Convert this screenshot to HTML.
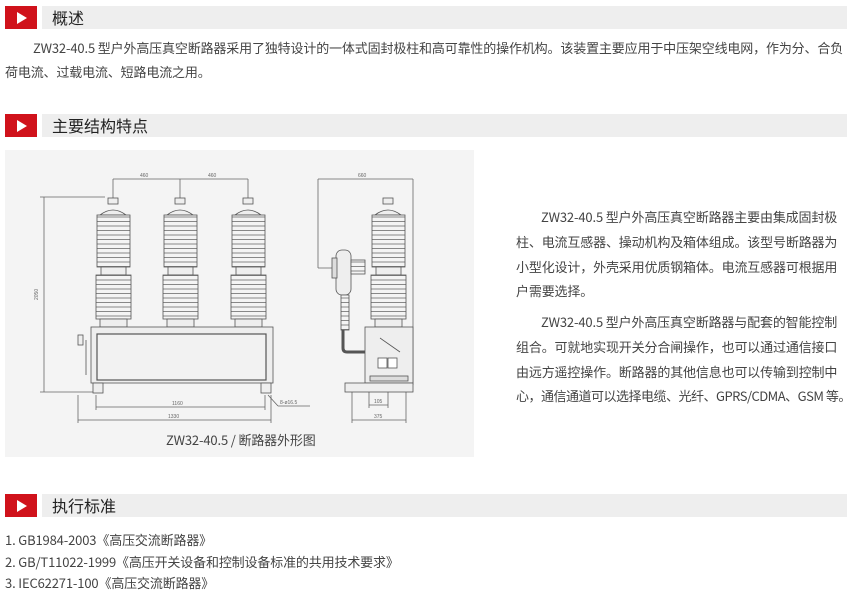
<!DOCTYPE html>
<html><head><meta charset="utf-8"><style>
*{margin:0;padding:0;box-sizing:border-box}
body{width:847px;height:592px;background:#fff;position:relative;overflow:hidden;font-family:"Noto Sans CJK SC","Liberation Sans",sans-serif;color:#444;font-size:13px}
.hd{position:absolute;left:5px;height:23px;width:842px}
.hd .r{position:absolute;left:0;top:0;width:32px;height:23px;background:#d0121b}
.hd .r:after{content:"";position:absolute;left:12px;top:6px;border-left:10px solid #fff;border-top:6px solid transparent;border-bottom:6px solid transparent}
.hd .g{position:absolute;left:37px;top:0;right:0;height:23px;background:#eeeeee;font-size:16px;color:#222;line-height:23px;padding-left:10px}
.t{position:absolute;white-space:nowrap;line-height:16px;letter-spacing:-0.15px}
</style></head><body>
<div class="hd" style="top:6px"><div class="r"></div><div class="g">概述</div></div>
<div class="t" style="left:33px;top:40px">ZW32-40.5 型户外高压真空断路器采用了独特设计的一体式固封极柱和高可靠性的操作机构。该装置主要应用于中压架空线电网，作为分、合负</div>
<div class="t" style="left:5px;top:64px">荷电流、过载电流、短路电流之用。</div>
<div class="hd" style="top:114px"><div class="r"></div><div class="g">主要结构特点</div></div>
<div style="position:absolute;left:5px;top:150px;width:469px;height:307px;background:#f4f4f4"></div>
<svg style="position:absolute;left:0;top:0" width="847" height="592">
<defs><pattern id="sh" width="8" height="4.5" patternUnits="userSpaceOnUse"><rect width="8" height="4.5" fill="#f4f4f4"/><line x1="0" y1="1" x2="8" y2="1" stroke="#888" stroke-width="1"/></pattern></defs>
<g stroke="#666" stroke-width="0.8" fill="none">
<line x1="113" y1="179" x2="248" y2="179"/><line x1="113" y1="179" x2="113" y2="200"/><line x1="180" y1="179" x2="180" y2="200"/><line x1="248" y1="179" x2="248" y2="200"/>
<line x1="40" y1="197" x2="105" y2="197"/><line x1="40" y1="392" x2="95" y2="392"/><line x1="44" y1="197" x2="44" y2="392"/>
<line x1="96" y1="395" x2="96" y2="410"/><line x1="265" y1="395" x2="265" y2="410"/><line x1="96" y1="407" x2="265" y2="407"/>
<line x1="78" y1="395" x2="78" y2="423"/><line x1="271" y1="395" x2="271" y2="423"/><line x1="78" y1="420" x2="271" y2="420"/>
<line x1="268" y1="395" x2="278" y2="406"/><line x1="278" y1="406" x2="310" y2="406"/>
<line x1="318" y1="179" x2="413" y2="179"/><line x1="318" y1="179" x2="318" y2="268"/><line x1="413" y1="179" x2="413" y2="385"/><line x1="318" y1="268" x2="335" y2="268"/>
<line x1="352" y1="392" x2="352" y2="423"/><line x1="406" y1="392" x2="406" y2="423"/><line x1="352" y1="420" x2="406" y2="420"/>
<line x1="369" y1="392" x2="369" y2="408"/><line x1="388" y1="392" x2="388" y2="408"/><line x1="369" y1="405" x2="388" y2="405"/>
</g>
<g font-size="5" fill="#666" font-family="Liberation Sans"><text x="140" y="177">460</text><text x="208" y="177">460</text><text x="358" y="177">660</text><text x="172" y="405">1160</text><text x="168" y="418">1330</text><text x="280" y="404">8-ø16.5</text><text x="374" y="403">105</text><text x="374" y="418">375</text><text x="38" y="300" transform="rotate(-90 38 300)">2050</text></g>
<g stroke="#555" stroke-width="0.8">
<g id="ins">
<rect x="108" y="198" width="10" height="6" fill="#eee"/>
<path d="M100 215 Q113 205 126 215 Z" fill="#eee"/>
<rect x="97" y="215" width="33" height="52" fill="url(#sh)"/>
<rect x="101" y="267" width="25" height="8" fill="#eee"/>
<rect x="96" y="275" width="35" height="44" fill="url(#sh)"/>
<rect x="100" y="319" width="27" height="8" fill="#eee"/>
</g>
<use href="#ins" x="67"/><use href="#ins" x="135"/>
<rect x="91" y="327" width="182" height="56" fill="#eee"/>
<rect x="97" y="334" width="169" height="46" fill="#f2f2f2" stroke-width="1.2"/>
<rect x="93" y="383" width="10" height="10" fill="#eee"/><rect x="261" y="383" width="10" height="10" fill="#eee"/>
<line x1="86" y1="340" x2="86" y2="375"/><rect x="78" y="335" width="5" height="10" fill="#eee"/>
<use href="#ins" x="275"/>
<rect x="365" y="327" width="48" height="56" fill="#eee"/>
<rect x="345" y="383" width="68" height="9" fill="#eee"/>
<rect x="378" y="358" width="9" height="10" fill="#fff"/><rect x="388" y="358" width="9" height="10" fill="#fff"/>
<rect x="370" y="376" width="38" height="5" fill="#ddd"/>
<line x1="380" y1="338" x2="400" y2="352"/>
<rect x="336" y="250" width="15" height="45" rx="6" fill="#eee"/>
<rect x="332" y="258" width="5" height="20" fill="#ddd"/><rect x="351" y="260" width="14" height="14" fill="url(#sh)"/>
<rect x="341" y="295" width="8" height="35" fill="url(#sh)"/>
<path d="M343 330 V348 Q343 352 347 352 H365" fill="none" stroke-width="3"/>
</g>
</svg>
<div class="t" style="left:166px;top:432px">ZW32-40.5 / 断路器外形图</div>
<div class="t" style="left:541px;top:209px">ZW32-40.5 型户外高压真空断路器主要由集成固封极</div>
<div class="t" style="left:516px;top:230px;line-height:24.5px">柱、电流互感器、操动机构及箱体组成。该型号断路器为<br>小型化设计，外壳采用优质钢箱体。电流互感器可根据用<br>户需要选择。</div>
<div class="t" style="left:541px;top:314px">ZW32-40.5 型户外高压真空断路器与配套的智能控制</div>
<div class="t" style="left:516px;top:335px;line-height:24.5px">组合。可就地实现开关分合闸操作，也可以通过通信接口<br>由远方遥控操作。断路器的其他信息也可以传输到控制中<br><span style="letter-spacing:-0.5px">心，通信通道可以选择电缆、光纤、GPRS/CDMA、GSM 等。</span></div>
<div class="hd" style="top:494px"><div class="r"></div><div class="g">执行标准</div></div>
<div class="t" style="left:5px;top:529px;line-height:21.5px">1. GB1984-2003《高压交流断路器》<br>2. GB/T11022-1999《高压开关设备和控制设备标准的共用技术要求》<br>3. IEC62271-100《高压交流断路器》</div>
</body></html>
